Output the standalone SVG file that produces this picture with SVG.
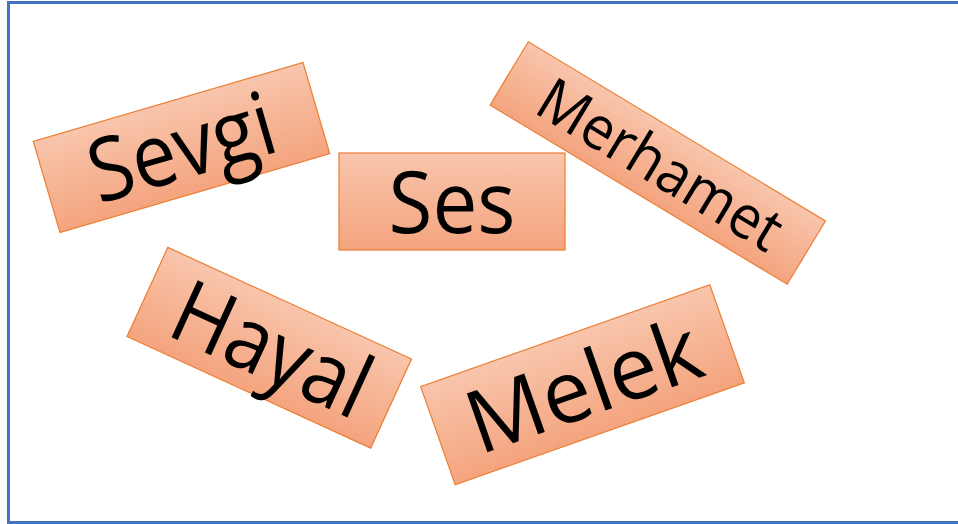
<svg xmlns="http://www.w3.org/2000/svg" width="958" height="524" viewBox="0 0 958 524">
<defs>
<linearGradient id="g" x1="0" y1="0" x2="0" y2="1">
<stop offset="0" stop-color="#F8C5AC"/>
<stop offset="1" stop-color="#F4A47E"/>
</linearGradient>
<style>
.box{fill:url(#g);stroke:#ED7D31;stroke-width:1.2}
.t{font-family:"Open Sans","Noto Sans","Liberation Sans",sans-serif;fill:#000;text-anchor:middle}
</style>
</defs>
<rect x="8.5" y="2.5" width="962" height="520" fill="#FFFFFF" stroke="#4472C4" stroke-width="3"/>
<g id="connectors"/>
<g id="sevgi" transform="translate(181.5 147.5) rotate(-16.3)">
<rect class="box" x="-140.5" y="-47.5" width="281" height="95"/>
<text class="t" x="0" y="31" font-size="88" textLength="190" lengthAdjust="spacingAndGlyphs">Sevgi</text>
</g>
<g id="ses" transform="translate(452 201.5)">
<rect class="box" x="-113" y="-48.5" width="226" height="97"/>
<text class="t" x="0" y="31" font-size="86" textLength="127" lengthAdjust="spacingAndGlyphs">Ses</text>
</g>
<g id="merhamet" transform="translate(657.75 163) rotate(31.1)">
<rect class="box" x="-173.5" y="-37" width="347" height="74"/>
<text class="t" x="3" y="21" font-size="60" textLength="274" lengthAdjust="spacingAndGlyphs">Merhamet</text>
</g>
<g id="hayal" transform="translate(269.25 347.75) rotate(24.6)">
<rect class="box" x="-134" y="-49" width="268" height="98"/>
<text class="t" x="3" y="31" font-size="88" textLength="208" lengthAdjust="spacingAndGlyphs">Hayal</text>
</g>
<g id="melek" transform="translate(582.5 384.75) rotate(-19.4)">
<rect class="box" x="-153.25" y="-52" width="306.5" height="104"/>
<text class="t" x="0.5" y="32" font-size="87" textLength="242" lengthAdjust="spacingAndGlyphs">Melek</text>
</g>
</svg>
